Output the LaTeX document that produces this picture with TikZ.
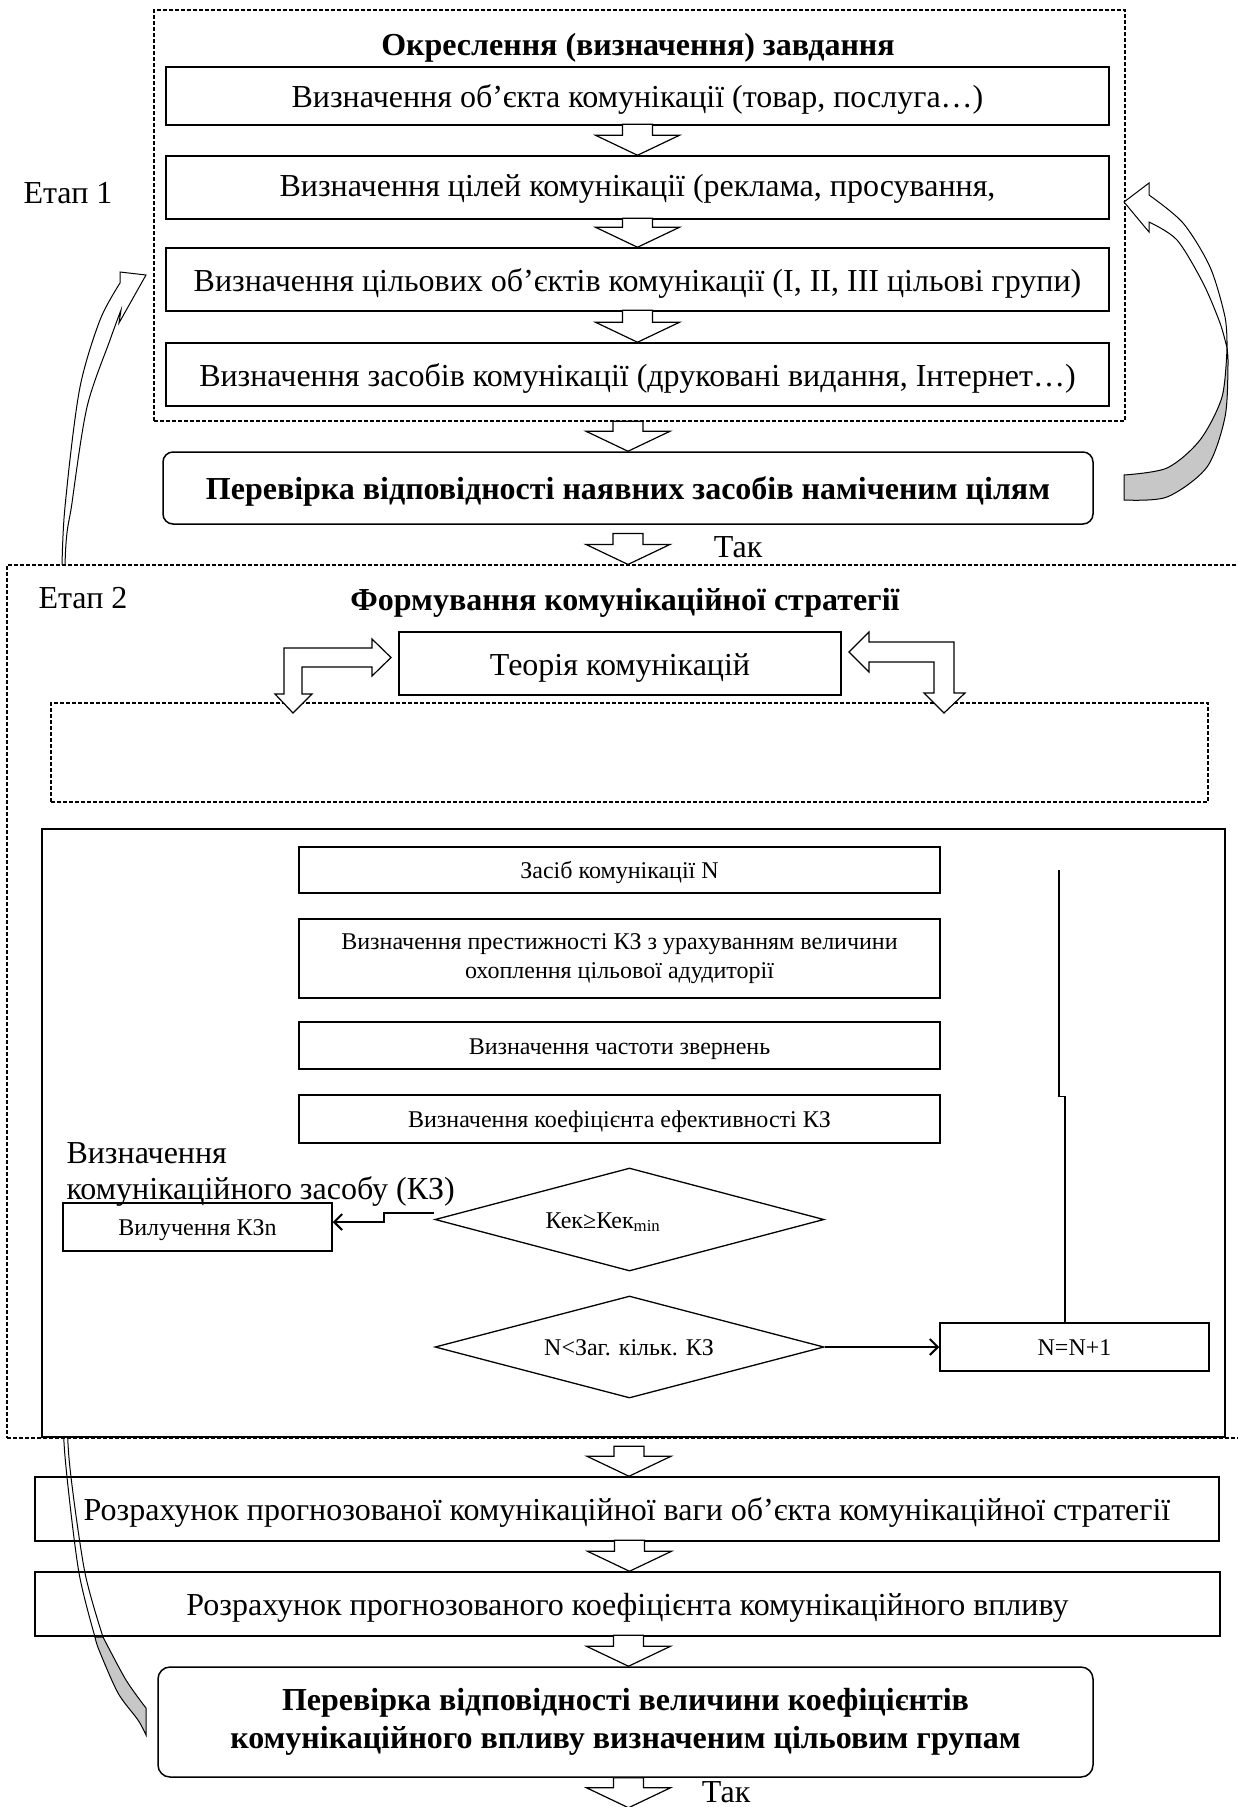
\documentclass[tikz,border=0pt]{standalone}
\usepackage{fontspec}
\setmainfont{Liberation Serif}
\usetikzlibrary{shapes.geometric,arrows.meta,calc}
\newcommand\fsbig{\fontsize{32}{38}\selectfont}
\newcommand\fslbl{\fontsize{32}{36}\selectfont}
\newcommand\fssmall{\fontsize{24}{29}\selectfont}
\tikzset{
  box/.style={draw, line width=1.5pt, inner sep=0pt, align=center, font=\fsbig},
  one/.style={text height=24pt, text depth=1pt},
  sone/.style={text height=18pt, text depth=1pt},
  sbox/.style={draw, line width=1.5pt, inner sep=0pt, align=center, font=\fssmall},
  rbox/.style={draw, line width=1.5pt, inner sep=0pt, rounded corners=12pt, align=center, font=\fsbig\bfseries, fill=white},
  dbox/.style={draw, line width=1.1pt, dash pattern=on 4pt off 2pt, inner sep=0pt},
  barrow/.style={draw, line width=1.2pt, fill=white, line join=miter},
  conn/.style={line width=2pt, -{Straight Barb[length=8pt,width=16pt,line width=2pt]}},
  curvw/.style={draw, line width=1pt, fill=white, line join=miter},
  curvg/.style={draw, line width=1pt, fill=black!22},
  pics/downarr/.style={code={
    \draw[barrow] (-15,-#1) -- (-15,-20) -- (-42,-20) -- (0,0) -- (42,-20) -- (15,-20) -- (15,-#1) -- cycle;}}
}
\begin{document}
\begin{tikzpicture}[x=1pt,y=-1pt]
\useasboundingbox[fill=white] (0,0) rectangle (1237,1807);

% ---------- left curved arrow (from final check back to stage 1); partly hidden by stage 2 ----------
\draw[curvw] (146,275) -- (120,272) -- plot[smooth] coordinates {(120,283) (100,320) (80,387) (67,487) (62,565) (59,800) (59,1050) (61,1300) (63,1420) (67,1477) (79,1573) (95,1637)} -- plot[smooth] coordinates {(103,1637) (85,1573) (71,1477) (67,1420) (65,1300) (63,1050) (63,800) (65,565) (72,503) (87,407) (110,340) (121,310)} -- (119,323) -- cycle;
\draw[curvg] plot[smooth] coordinates {(95,1637) (99,1650) (118,1693) (138,1720) (146,1735)} -- (146,1708) -- plot[smooth] coordinates {(146,1708) (126,1680) (103,1637)} -- cycle;

% ---------- Stage 1 ----------
\node[dbox, minimum width=971pt, minimum height=411pt] (stage1) at (639.5,215.5) {};
\node[anchor=base, font=\fsbig\bfseries] (title1) at (638,55) {Окреслення (визначення) завдання};
\node[anchor=base west, font=\fsbig] (etap1) at (20,203) {Етап 1};

\node[box, one, minimum width=943pt, minimum height=58pt] (b1) at (637.5,96) {Визначення об’єкта комунікації (товар, послуга…)};
\node[box, minimum width=943pt, minimum height=63pt] (b2) at (637.5,187.5) {};
\node[font=\fsbig, one] (b2t) at (637.5,185) {Визначення цілей комунікації (реклама, просування,};
\node[box, one, minimum width=943pt, minimum height=63pt] (b3) at (637.5,279.5) {Визначення цільових об’єктів комунікації (I, II, III цільові групи)};
\node[box, one, minimum width=943pt, minimum height=63pt] (b4) at (637.5,374.5) {Визначення засобів комунікації (друковані видання, Інтернет…)};
\node[rbox, one, rounded corners=10pt, minimum width=930pt, minimum height=72pt] (chk1) at (628,488) {Перевірка відповідності наявних засобів наміченим цілям};

\pic at (b2.north) {downarr=31};
\pic at (b3.north) {downarr=29};
\pic at (b4.north) {downarr=32};
\pic at (chk1.north) {downarr=30};

\node[anchor=base, font=\fsbig] (tak1) at (738,557) {Так};

% ---------- Stage 2 ----------
\node[dbox, fill=white, minimum width=1243pt, minimum height=873pt] (stage2) at (628.5,1001.5) {};
\pic at (chk1.south |- stage2.north) {downarr=31};
\node[anchor=base west, font=\fsbig] (etap2) at (35,608) {Етап 2};
\node[anchor=base, font=\fsbig\bfseries] (title2) at (625,610) {Формування комунікаційної стратегії};

\node[box, one, minimum width=442pt, minimum height=63pt] (teor) at (620,663.5) {Теорія комунікацій};
\node[dbox, minimum width=1157pt, minimum height=99pt] (inner) at (629.5,752.5) {};

% L-shaped double arrows between the theory box and the dashed frame
\draw[barrow] (284,694) -- (284,648) -- (372,648) -- (372,639) -- (391,657.5) -- (372,676) -- (372,667) -- (302,667) -- (302,694) -- (312,694) -- (293,713) -- (275,694) -- cycle;
\draw[barrow] (869,642) -- (954,642) -- (954,693) -- (965,693) -- (944,713) -- (924,693) -- (934,693) -- (934,662) -- (869,662) -- (869,672) -- (849,652) -- (869,632) -- cycle;

\node[draw, line width=1.5pt, minimum width=1183pt, minimum height=608pt, inner sep=0pt] (algo) at (633.5,1133) {};

\node[sbox, sone, minimum width=641pt, minimum height=46pt] (z1) at (619.5,870) {Засіб комунікації N};
\node[sbox, minimum width=641pt, minimum height=79pt] (z2) at (619.5,958.5) {Визначення престижності КЗ з урахуванням величини\\охоплення цільової адудиторії};
\node[sbox, sone, minimum width=641pt, minimum height=47pt] (z3) at (619.5,1045.5) {Визначення частоти звернень};
\node[sbox, sone, minimum width=641pt, minimum height=48pt] (z4) at (619.5,1119) {Визначення коефіцієнта ефективності КЗ};

\node[anchor=base west, align=left, font=\fslbl] (lbl) at (63,1199) {Визначення\\комунікаційного засобу (КЗ)};

\node[diamond, draw, line width=1.3pt, minimum width=389pt, minimum height=103pt, inner sep=0pt] (d1) at (629.5,1219.5) {};
\node[font=\fssmall] (d1t) at (603,1222) {Кек≥Кек\textsubscript{min}};
\node[diamond, draw, line width=1.3pt, minimum width=389pt, minimum height=102pt, inner sep=0pt] (d2) at (629.5,1347) {};
\node[font=\fssmall, sone] (d2t) at (629,1347) {N<Заг. кільк. КЗ};

\node[sbox, sone, minimum width=269pt, minimum height=48pt] (vil) at (197.5,1227) {Вилучення КЗn};
\node[sbox, sone, minimum width=269pt, minimum height=48pt] (nn) at (1074.5,1347) {N=N+1};

\draw[conn] ([yshift=7pt]d1.west) -- ++(-50,0) |- ([yshift=5pt]vil.east);
\draw[conn] (d2.east) -- (nn.west);
\draw[line width=1.5pt] ([xshift=-9.5pt]nn.north) -- ++(0,-226) -- ++(-6,0) -- ++(0,-226);

% ---------- after stage 2 ----------
\node[box, one, minimum width=1184pt, minimum height=64pt] (r1) at (627,1509) {Розрахунок прогнозованої комунікаційної ваги об’єкта комунікаційної стратегії};
\node[box, one, minimum width=1185pt, minimum height=64pt] (r2) at (627.5,1604) {Розрахунок прогнозованого коефіцієнта комунікаційного впливу};
\node[rbox, minimum width=935pt, minimum height=110pt] (chk2) at (625.5,1722) {Перевірка відповідності величини коефіцієнтів\\комунікаційного впливу визначеним цільовим групам};

\pic at ([xshift=2pt]r1.north) {downarr=30};
\pic at ([xshift=2pt]r2.north) {downarr=31};
\pic at ([xshift=3pt]chk2.north) {downarr=31};
\pic at ([xshift=3pt,yshift=-30pt]chk2.south) {downarr=30};
\node[anchor=base, font=\fsbig] (tak2) at (726,1802) {Так};

% ---------- right curved arrow (from first check back to goals) ----------
\draw[curvw] (1124,202) -- (1149,183) -- plot[smooth] coordinates {(1149,195) (1183,223) (1210,267) (1225,317) (1227,348)} -- plot[smooth] coordinates {(1227,348) (1220,323) (1203,283) (1177,240) (1149,222)} -- (1149,232) -- cycle;
\draw[curvg] plot[smooth] coordinates {(1227,348) (1222,397) (1200,440) (1167,468) (1124,475)} -- (1124,500) -- plot[smooth] coordinates {(1124,500) (1167,497) (1207,467) (1225,417) (1228,365) (1227,348)} -- cycle;
\end{tikzpicture}
\end{document}
